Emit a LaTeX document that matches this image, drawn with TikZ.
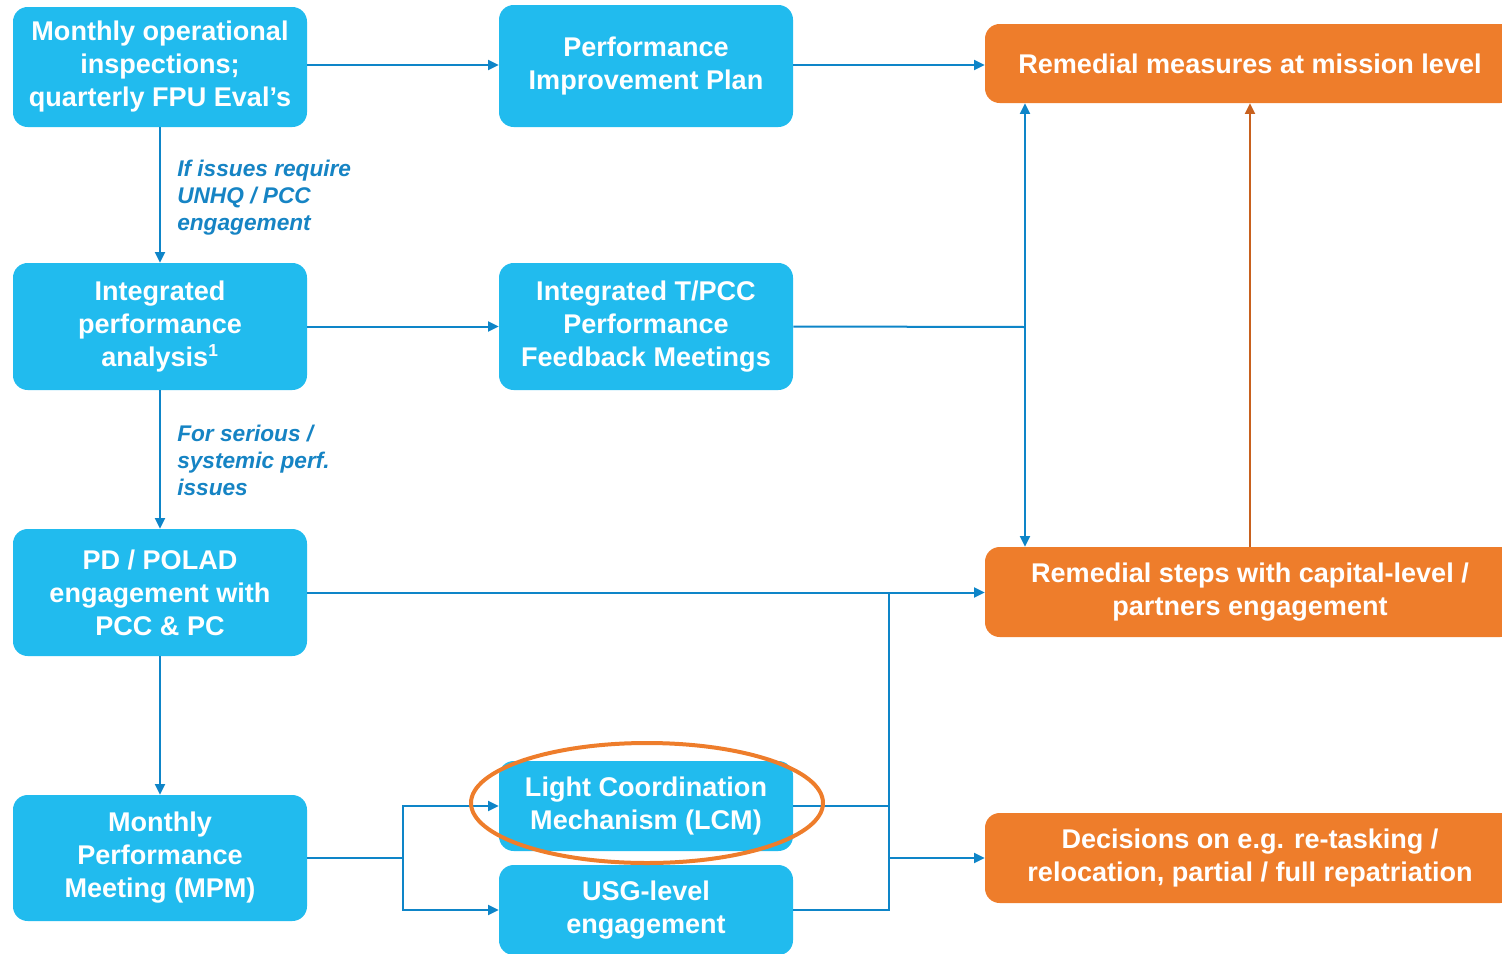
\documentclass[tikz,border=0pt]{standalone}
\usepackage{fontspec}
\setmainfont{Liberation Sans}
\usetikzlibrary{arrows.meta,calc}
\definecolor{boxblue}{HTML}{21BBEE}
\definecolor{linkblue}{HTML}{0E85C8}
\definecolor{labelblue}{HTML}{1684C4}
\definecolor{boxorange}{HTML}{EE7D2B}
\definecolor{arrorange}{HTML}{C8611E}
\tikzset{
  bbox/.style={rectangle, rounded corners=11pt, fill=boxblue, text=white,
    font=\bfseries\fontsize{20.3}{24.75}\selectfont, align=center, inner sep=0pt,
    minimum width=220.5pt, minimum height=#1},
  obox/.style={rectangle, rounded corners=11pt, fill=boxorange, text=white,
    font=\bfseries\fontsize{20.3}{24.75}\selectfont, align=center, inner sep=0pt,
    minimum width=397.5pt, minimum height=#1},
  link/.style={draw=linkblue, line width=1.5pt, -{Triangle[length=8pt,width=7.5pt]}},
  plain/.style={draw=linkblue, line width=1.5pt},
  orlink/.style={draw=arrorange, line width=1.5pt, -{Triangle[length=8pt,width=7.5pt]}},
  lbl/.style={text=labelblue, font=\bfseries\itshape\fontsize{17}{20.25}\selectfont,
    align=left, anchor=north west, inner sep=0pt}
}
\begin{document}
\begin{tikzpicture}[x=0.75pt,y=-0.75pt]
\useasboundingbox (0,0) rectangle (1502,953);
\clip (0,0) rectangle (1502,953);
% nodes
\node[bbox=90pt]    (A) at (160,67)    {Monthly operational\\inspections;\\quarterly FPU Eval’s};
\node[bbox=91.5pt]  (B) at (646,66)    {Performance\\Improvement Plan};
\node[obox=59.25pt] (C) at (1250,63.5) {Remedial measures at mission level};
\node[bbox=95.25pt] (D) at (160,326.5) {Integrated\\performance\\analysis\textsuperscript{\fontsize{13}{13}\selectfont 1}};
\node[bbox=95.25pt] (E) at (646,326.5) {Integrated T/PCC\\Performance\\Feedback Meetings};
\node[bbox=95.25pt] (F) at (160,592.5) {PD / POLAD\\engagement with\\PCC \& PC};
\node[obox=67.5pt]  (G) at (1250,592)  {Remedial steps with capital-level /\\partners engagement};
\node[bbox=94.5pt]  (H) at (160,858)   {Monthly\\Performance\\Meeting (MPM)};
\node[bbox=67.5pt]  (I) at (646,806)   {Light Coordination\\Mechanism (LCM)};
\node[bbox=67.5pt]  (U) at (646,910)   {USG-level\\engagement};
\node[obox=67.5pt]  (J) at (1250,858)  {Decisions on e.g. re-tasking /\\relocation, partial / full repatriation};
% labels
\node[lbl] (L1) at (177,160) {If issues require\\UNHQ / PCC\\engagement};
\node[lbl] (L2) at (177,425) {For serious /\\systemic perf.\\issues};
% coordinates
\coordinate (j1) at (1025,327);
\coordinate (hs) at (403,858);
\coordinate (rs) at (889,858);
\coordinate (rt) at (889,592);
% connectors
\draw[link] (A.east |- 0,65) -- (B.west |- 0,65);
\draw[link] (B.east |- 0,65) -- (C.west |- 0,65);
\draw[link] (A.south) -- (D.north);
\draw[link] (D.east) -- (E.west);
\draw[plain] (E.east) -- (j1);
\draw[link] (j1) -- (C.south -| j1);
\draw[link] (j1) -- (G.north -| j1);
\draw[link] (D.south) -- (F.north);
\draw[link] (F.east) -- (F.east -| G.west);
\draw[link] (F.south) -- (H.north);
\draw[plain] (H.east) -- (hs);
\draw[link] (hs) |- (I.west);
\draw[link] (hs) |- (U.west);
\draw[plain] (I.east) -- (I.east -| rs);
\draw[plain] (U.east) -| (rt);
\draw[link] (rs) -- (rs -| J.west);
\draw[orlink] (G.north) -- (C.south);
% highlight ellipse
\draw[boxorange, line width=3pt] (647,803) ellipse [x radius=132pt, y radius=45pt];
\end{tikzpicture}
\end{document}
